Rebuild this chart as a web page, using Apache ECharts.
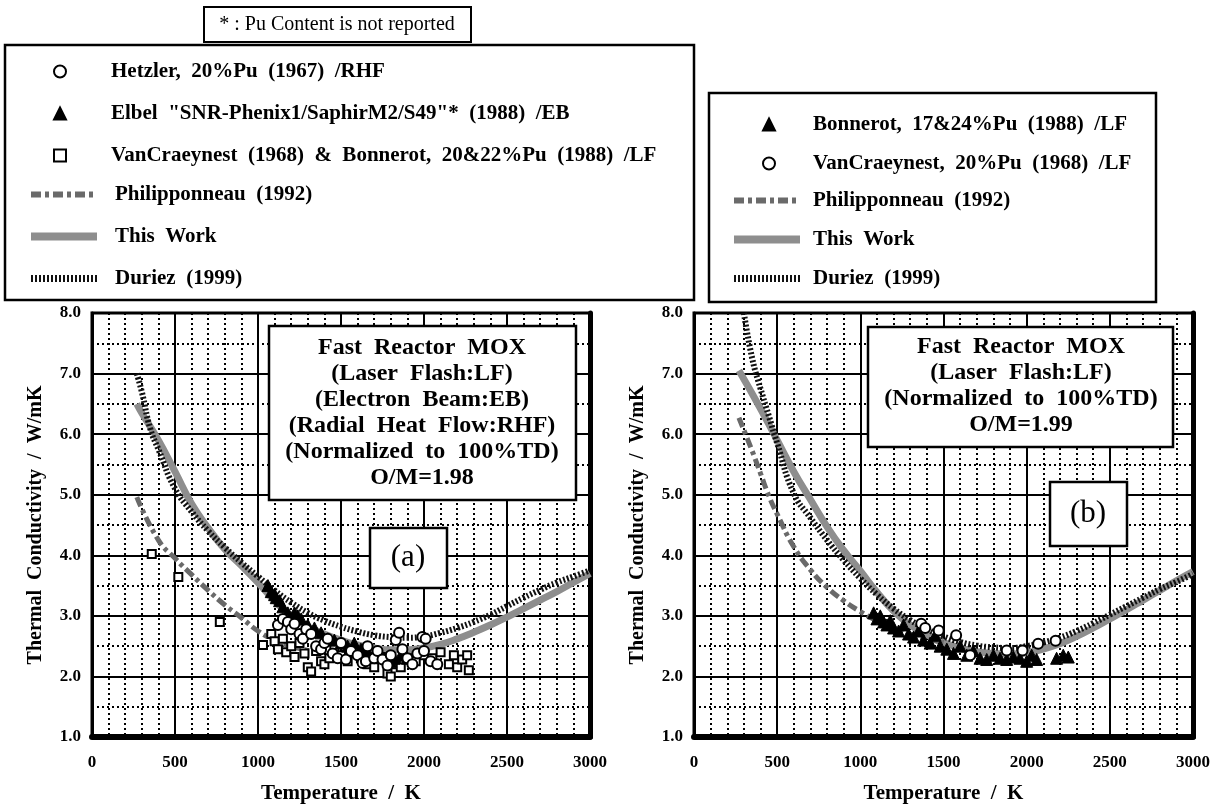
<!DOCTYPE html>
<html>
<head>
<meta charset="utf-8">
<title>Fast Reactor MOX thermal conductivity</title>
<script src="https://cdn.jsdelivr.net/npm/echarts@6/dist/echarts.min.js"></script>
<style>
  html, body { margin: 0; padding: 0; background: #fff; }
  #chart { width: 1223px; height: 809px; }
</style>
</head>
<body>
<div id="chart"></div>
<script>
  /* 温度轴与热导率轴 */
  var X_TICKS = [0, 500, 1000, 1500, 2000, 2500, 3000];
  var Y_TICKS = [1, 2, 3, 4, 5, 6, 7, 8];

  /* (a) O/M=1.98 */
  var thisWorkA = [[270,6.5],[300,6.35],[400,5.9],[500,5.38],[600,4.85],[700,4.45],[800,4.1],[900,3.83],[1000,3.55],[1100,3.25],[1200,3.0],[1300,2.82],[1400,2.7],[1500,2.6],[1600,2.52],[1700,2.47],[1800,2.44],[1900,2.44],[2000,2.47],[2100,2.53],[2200,2.62],[2300,2.73],[2400,2.85],[2500,2.98],[2600,3.12],[2700,3.26],[2800,3.4],[2900,3.55],[3000,3.7]];
  var duriezA = [[270,7.0],[300,6.7],[350,6.1],[400,5.75],[500,5.1],[600,4.72],[700,4.4],[800,4.13],[900,3.88],[1000,3.65],[1100,3.42],[1200,3.22],[1300,3.05],[1400,2.92],[1500,2.82],[1600,2.74],[1700,2.68],[1800,2.65],[1900,2.64],[2000,2.66],[2100,2.72],[2200,2.8],[2300,2.9],[2400,3.02],[2500,3.16],[2600,3.3],[2700,3.43],[2800,3.55],[2900,3.65],[3000,3.75]];
  var philipA = [[270,4.96],[400,4.25],[500,3.95],[600,3.68],[700,3.42],[800,3.18],[900,2.97],[1000,2.75],[1100,2.6],[1200,2.5],[1300,2.43],[1400,2.38],[1500,2.35],[1600,2.33]];
  var hetzlerA = [[1120,2.85],[1150,2.95],[1180,2.9],[1200,2.78],[1220,2.87],[1250,2.7],[1270,2.62],[1290,2.78],[1320,2.7],[1350,2.5],[1380,2.45],[1400,2.55],[1420,2.62],[1450,2.38],[1480,2.3],[1500,2.55],[1530,2.28],[1560,2.42],[1600,2.35],[1630,2.22],[1650,2.25],[1660,2.5],[1700,2.3],[1720,2.42],[1750,2.28],[1780,2.18],[1800,2.35],[1830,2.6],[1850,2.72],[1870,2.45],[1900,2.3],[1930,2.2],[1960,2.38],[1990,2.65],[2000,2.42],[2010,2.62],[2040,2.25],[2080,2.2]];
  var elbelA = [[1060,3.5],[1080,3.4],[1100,3.35],[1110,3.3],[1130,3.25],[1150,3.15],[1180,3.05],[1220,3.05],[1240,3.0],[1260,2.95],[1300,2.85],[1340,2.8],[1380,2.72],[1420,2.62],[1460,2.6],[1500,2.55],[1540,2.5],[1580,2.55],[1620,2.45],[1660,2.42],[1700,2.38],[1740,2.35],[1780,2.32],[1800,2.25],[1820,2.3],[1860,2.35],[1900,2.3]];
  var vanBonA = [[360,4.02],[520,3.64],[770,2.9],[1030,2.52],[1080,2.7],[1100,2.58],[1120,2.45],[1150,2.62],[1170,2.4],[1200,2.5],[1220,2.32],[1250,2.55],[1280,2.38],[1300,2.15],[1320,2.08],[1350,2.42],[1380,2.25],[1400,2.2],[1430,2.3],[1460,2.45],[1500,2.35],[1540,2.25],[1580,2.4],[1620,2.3],[1660,2.2],[1700,2.15],[1740,2.32],[1780,2.05],[1800,2.0],[1830,2.2],[1860,2.15],[1900,2.3],[1950,2.25],[2000,2.35],[2050,2.3],[2100,2.4],[2150,2.2],[2180,2.35],[2200,2.15],[2230,2.28],[2260,2.35],[2270,2.1]];

  /* (b) O/M=1.99 */
  var thisWorkB = [[270,7.05],[400,6.42],[500,5.9],[600,5.38],[700,4.92],[800,4.47],[900,4.08],[1000,3.74],[1100,3.39],[1200,3.08],[1300,2.85],[1400,2.69],[1500,2.56],[1600,2.47],[1700,2.41],[1800,2.38],[1900,2.37],[2000,2.39],[2100,2.45],[2200,2.54],[2300,2.66],[2400,2.8],[2500,2.95],[2600,3.1],[2700,3.26],[2800,3.42],[2900,3.58],[3000,3.73]];
  var duriezB = [[300,8.0],[350,7.25],[400,6.75],[450,6.3],[500,5.85],[600,5.02],[700,4.62],[800,4.25],[900,3.92],[1000,3.62],[1100,3.35],[1200,3.12],[1300,2.93],[1400,2.78],[1500,2.66],[1600,2.57],[1700,2.51],[1800,2.48],[1900,2.47],[2000,2.5],[2100,2.56],[2200,2.64],[2300,2.75],[2400,2.88],[2500,3.02],[2600,3.16],[2700,3.3],[2800,3.44],[2900,3.56],[3000,3.69]];
  var philipB = [[270,6.27],[350,5.72],[400,5.35],[450,4.98],[500,4.68],[600,4.14],[700,3.76],[800,3.47],[900,3.25],[1000,3.07],[1100,2.92],[1200,2.8],[1300,2.7],[1400,2.62],[1500,2.56]];
  var bonnerotB = [[1080,3.05],[1100,2.95],[1120,3.0],[1140,2.9],[1160,2.85],[1180,2.92],[1200,2.8],[1230,2.75],[1260,2.85],[1290,2.7],[1320,2.65],[1350,2.75],[1380,2.6],[1420,2.55],[1450,2.68],[1480,2.5],[1520,2.45],[1560,2.38],[1600,2.5],[1640,2.35],[1680,2.42],[1720,2.3],[1760,2.28],[1800,2.35],[1840,2.3],[1880,2.28],[1920,2.32],[1960,2.3],[2000,2.25],[2030,2.35],[2060,2.28],[2180,2.3],[2220,2.35],[2250,2.32]];
  var vanCraeyB = [[1366,2.87],[1390,2.8],[1471,2.76],[1576,2.68],[1660,2.35],[1880,2.43],[1975,2.43],[2069,2.54],[2174,2.59]];

  var FONT = "'Liberation Serif', 'Times New Roman', serif";
  var chart = echarts.init(document.getElementById('chart'));

  /* 三种曲线的线型 */
  var LINE_STYLES = {
    work: { color: '#8e8e8e', width: 7 },
    philip: { color: '#6a6a6a', width: 5, type: [10, 4, 4, 4] },
    duriez: { color: '#111', width: 6, type: [2, 2], cap: 'butt' }
  };

  /* 原图排版单词间距较宽 */
  function wide(s) { return s.replace(/ /g, '  '); }

  function xAxisOf(gi) {
    return {
      type: 'value', gridIndex: gi, min: X_TICKS[0], max: X_TICKS[X_TICKS.length - 1], interval: 500,
      name: wide('Temperature / K'), nameLocation: 'middle', nameGap: 46,
      nameTextStyle: { fontFamily: FONT, fontWeight: 'bold', fontSize: 21, color: '#000' },
      axisLine: { show: true, onZero: false, lineStyle: { color: '#000', width: 6 } },
      axisTick: { show: false },
      axisLabel: { fontFamily: FONT, fontWeight: 'bold', fontSize: 17, color: '#000', margin: 17,
        formatter: function (v) { return String(v); } },
      splitLine: { show: true, lineStyle: { color: '#000', width: 2 } },
      minorTick: { show: false, splitNumber: 5 },
      minorSplitLine: { show: true, lineStyle: { color: '#000', width: 2, type: [2, 3] } }
    };
  }
  function yAxisOf(gi) {
    return {
      type: 'value', gridIndex: gi, min: Y_TICKS[0], max: Y_TICKS[Y_TICKS.length - 1], interval: 1,
      name: wide('Thermal Conductivity / W/mK'), nameLocation: 'middle', nameGap: 46,
      nameTextStyle: { fontFamily: FONT, fontWeight: 'bold', fontSize: 20, color: '#000' },
      axisLine: { show: true, lineStyle: { color: '#000', width: 3 } },
      axisTick: { show: false },
      axisLabel: { fontFamily: FONT, fontWeight: 'bold', fontSize: 17, color: '#000', margin: 11,
        formatter: function (v) { return v.toFixed(1); } },
      splitLine: { show: true, lineStyle: { color: '#000', width: 2 } },
      minorTick: { show: false, splitNumber: 2 },
      minorSplitLine: { show: true, lineStyle: { color: '#000', width: 2, type: [2, 3] } }
    };
  }
  /* 右侧加粗边框 */
  function rightFrame(gi) {
    return {
      type: 'value', gridIndex: gi, position: 'right', min: 1, max: 8,
      axisLine: { show: true, lineStyle: { color: '#000', width: 5 } },
      axisTick: { show: false }, axisLabel: { show: false }, splitLine: { show: false }
    };
  }

  function lineSeries(name, data, xi, yi, kind) {
    var ls = LINE_STYLES[kind];
    return {
      name: name, type: 'line', xAxisIndex: xi, yAxisIndex: yi, data: data,
      smooth: true, symbol: 'none', lineStyle: ls, itemStyle: { color: ls.color },
      z: kind === 'duriez' ? 4 : 3
    };
  }
  function scatter(name, data, xi, yi, kind) {
    var s = { name: name, type: 'scatter', xAxisIndex: xi, yAxisIndex: yi, data: data, z: 5 };
    if (kind === 'circle') {
      s.symbol = 'circle'; s.symbolSize = 10;
      s.itemStyle = { color: '#fff', borderColor: '#000', borderWidth: 2, opacity: 1 };
      s.z = 7;
    } else if (kind === 'square') {
      s.symbol = 'rect'; s.symbolSize = 8;
      s.itemStyle = { color: '#fff', borderColor: '#000', borderWidth: 2, opacity: 1 };
    } else {
      s.symbol = 'triangle'; s.symbolSize = 12;
      s.itemStyle = { color: '#000', borderColor: '#000', borderWidth: 1, opacity: 1 };
      s.z = 6;
    }
    return s;
  }

  var N_HETZ = 'Hetzler, 20%Pu (1967) /RHF';
  var N_ELBEL = 'Elbel "SNR-Phenix1/SaphirM2/S49"* (1988) /EB';
  var N_VANBON = 'VanCraeynest (1968) & Bonnerot, 20&22%Pu (1988) /LF';
  var N_PHIL = 'Philipponneau (1992)';
  var N_WORK = 'This Work';
  var N_DUR = 'Duriez (1999)';
  var N_BON = 'Bonnerot, 17&24%Pu (1988) /LF';
  var N_VANC = 'VanCraeynest, 20%Pu (1968) /LF';
  var LINE_KIND = {};
  LINE_KIND[N_PHIL] = 'philip'; LINE_KIND[N_WORK] = 'work'; LINE_KIND[N_DUR] = 'duriez';

  function legendText(padLeft) {
    return { fontFamily: FONT, fontWeight: 'bold', fontSize: 21, color: '#000', lineHeight: 12,
      padding: [0, 0, 0, padLeft] };
  }
  /* 折线图例只画线，不画圆点 */
  function lineItem(name) {
    var ls = LINE_STYLES[LINE_KIND[name]];
    return { name: name,
      itemStyle: { color: 'rgba(0,0,0,0)', borderColor: 'rgba(0,0,0,0)', borderWidth: 0, opacity: 0 },
      lineStyle: { color: ls.color, width: ls.width + 1, type: ls.type || 'solid', cap: 'butt' } };
  }
  function symLegend(left, top, gap, pad, names) {
    return { orient: 'vertical', left: left, top: top, itemWidth: 12, itemHeight: 12, itemGap: gap,
      selectedMode: false, textStyle: legendText(pad), formatter: wide, data: names };
  }
  function lineLegend(left, top, gap, pad, names) {
    return { orient: 'vertical', left: left, top: top, itemWidth: 66, itemHeight: 12, itemGap: gap,
      selectedMode: false, textStyle: legendText(pad), formatter: wide, data: names.map(lineItem) };
  }

  function box(x, y, w, h, lw) {
    return { type: 'rect', shape: { x: x, y: y, width: w, height: h }, z: 20,
      style: { fill: '#fff', stroke: '#000', lineWidth: lw } };
  }
  function frame(x, y, w, h) {
    return { type: 'rect', shape: { x: x, y: y, width: w, height: h }, z: -1,
      style: { fill: 'none', stroke: '#000', lineWidth: 2.5 } };
  }
  function label(x, y, text, size, bold, lh) {
    return { type: 'text', x: x, y: y, z: 21,
      style: { text: text, fontFamily: FONT, fontSize: size, fontWeight: bold ? 'bold' : 'normal',
        fill: '#000', align: 'center', verticalAlign: 'middle', lineHeight: lh || size } };
  }

  chart.setOption({
    backgroundColor: '#fff',
    animation: false,
    grid: [
      { left: 92, top: 313, width: 498, height: 427, show: true, borderColor: '#000', borderWidth: 3 },
      { left: 694, top: 313, width: 499, height: 427, show: true, borderColor: '#000', borderWidth: 3 }
    ],
    xAxis: [xAxisOf(0), xAxisOf(1)],
    yAxis: [yAxisOf(0), yAxisOf(1), rightFrame(0), rightFrame(1)],
    legend: [
      symLegend(48, 56, 21, 40, [N_HETZ, N_ELBEL, N_VANBON]),
      lineLegend(22, 179, 21, 13, [N_PHIL, N_WORK, N_DUR]),
      symLegend(757, 109, 18, 33, [N_BON, N_VANC]),
      lineLegend(725, 185, 18, 8, [N_PHIL, N_WORK, N_DUR])
    ],
    graphic: [
      box(204, 7, 267, 35, 2),
      label(337, 25, '* : Pu Content is not reported', 20, false),
      frame(5, 45, 689, 255),
      frame(709, 93, 447, 209),
      box(269, 326, 307, 174, 2.5),
      label(422, 413, wide('Fast Reactor MOX\n(Laser Flash:LF)\n(Electron Beam:EB)\n(Radial Heat Flow:RHF)\n(Normalized to 100%TD)\nO/M=1.98'), 24, true, 26),
      box(370, 528, 77, 60, 2.5),
      label(408, 558, '(a)', 31, false),
      box(868, 327, 305, 120, 2.5),
      label(1021, 386, wide('Fast Reactor MOX\n(Laser Flash:LF)\n(Normalized to 100%TD)\nO/M=1.99'), 24, true, 26),
      box(1050, 482, 77, 64, 2.5),
      label(1088, 514, '(b)', 31, false)
    ],
    series: [
      lineSeries(N_WORK, thisWorkA, 0, 0, 'work'),
      lineSeries(N_PHIL, philipA, 0, 0, 'philip'),
      lineSeries(N_DUR, duriezA, 0, 0, 'duriez'),
      scatter(N_VANBON, vanBonA, 0, 0, 'square'),
      scatter(N_ELBEL, elbelA, 0, 0, 'triangle'),
      scatter(N_HETZ, hetzlerA, 0, 0, 'circle'),
      lineSeries(N_WORK, thisWorkB, 1, 1, 'work'),
      lineSeries(N_PHIL, philipB, 1, 1, 'philip'),
      lineSeries(N_DUR, duriezB, 1, 1, 'duriez'),
      scatter(N_BON, bonnerotB, 1, 1, 'triangle'),
      scatter(N_VANC, vanCraeyB, 1, 1, 'circle')
    ]
  });
</script>
</body>
</html>
